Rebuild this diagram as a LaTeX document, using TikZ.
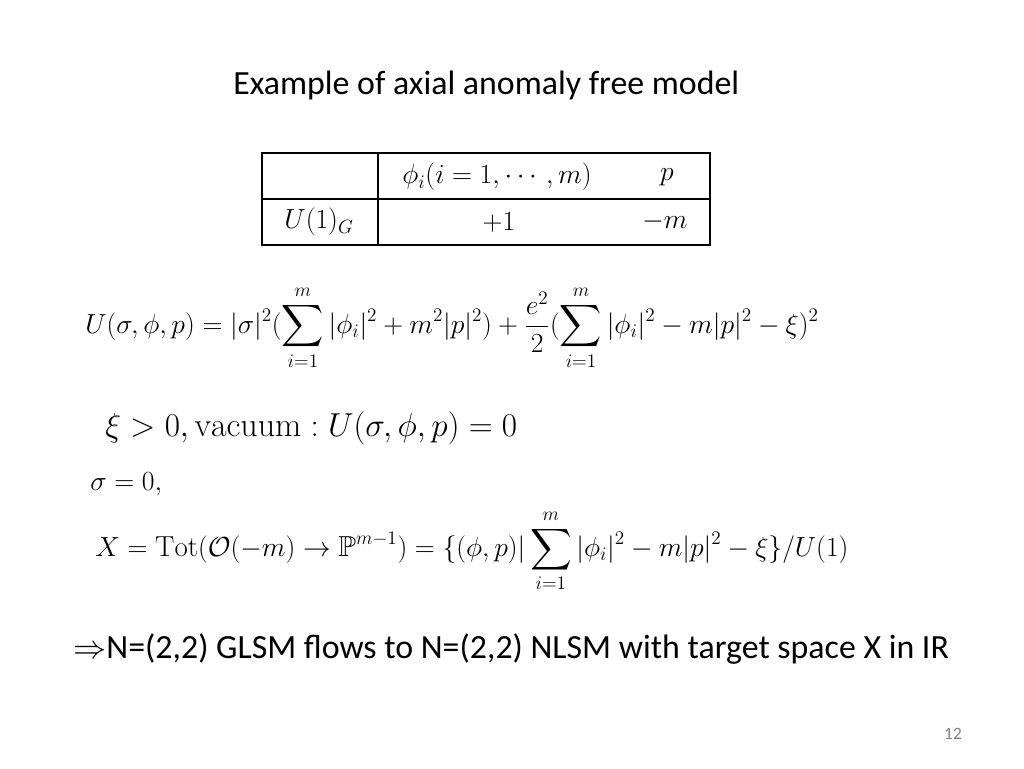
\documentclass[tikz,border=0pt]{standalone}
\usepackage{fontspec}
\usepackage{amsmath,amssymb}
\newfontfamily\slidefont{Carlito}
\begin{document}
\begin{tikzpicture}[x=0.75pt,y=-0.75pt,
  txt/.style={inner sep=0pt,font=\slidefont\fontsize{25.4}{30}\selectfont},
  mth/.style={inner sep=0pt,font=\fontsize{22}{26}\selectfont},
  tab/.style={inner sep=0pt,font=\fontsize{21}{25}\selectfont}]
\useasboundingbox (0,0) rectangle (1024,768);
\node[txt,anchor=west] (title) at (233,85) {Example of axial anomaly free model};
\draw[line width=0.8pt] (262,153) rectangle (710,245);
\draw[line width=0.8pt] (262,199) -- (710,199);
\draw[line width=0.8pt] (378,153) -- (378,245);
\node[tab] (c1) at (497,177) {$\phi_i(i=1,\cdots,m)$};
\node[tab] (c2) at (667,177) {$p$};
\node[tab] (r1) at (319,222) {$U(1)_G$};
\node[tab] (v1) at (499,222) {$+1$};
\node[tab] (v2) at (665,222) {$-m$};
\node[mth,anchor=west] (eq1) at (85,328) {$\displaystyle U(\sigma,\phi,p)=|\sigma|^2(\sum_{i=1}^m|\phi_i|^2+m^2|p|^2)+\frac{e^2}{2}(\sum_{i=1}^m|\phi_i|^2-m|p|^2-\xi)^2$};
\node[inner sep=0pt,font=\fontsize{25.5}{30}\selectfont,anchor=west] (eq2) at (105,428) {$\xi>0,\mathrm{vacuum}:U(\sigma,\phi,p)=0$};
\node[mth,anchor=west] (eq3) at (90,484) {$\sigma=0,$};
\node[inner sep=0pt,font=\fontsize{21.7}{26}\selectfont,anchor=west] (eq4) at (95,551) {$\displaystyle X=\mathrm{Tot}(\mathcal{O}(-m)\to\mathbb{P}^{m-1})=\{(\phi,p)|\sum_{i=1}^m|\phi_i|^2-m|p|^2-\xi\}/U(1)$};
\node[txt,anchor=west] (concl) at (73,649) {$\Rightarrow$N=(2,2) GLSM flows to N=(2,2) NLSM with target space X in IR};
\node[inner sep=0pt,font=\slidefont\fontsize{13}{15}\selectfont,text=gray] (pg) at (953,734) {12};
\end{tikzpicture}
\end{document}
